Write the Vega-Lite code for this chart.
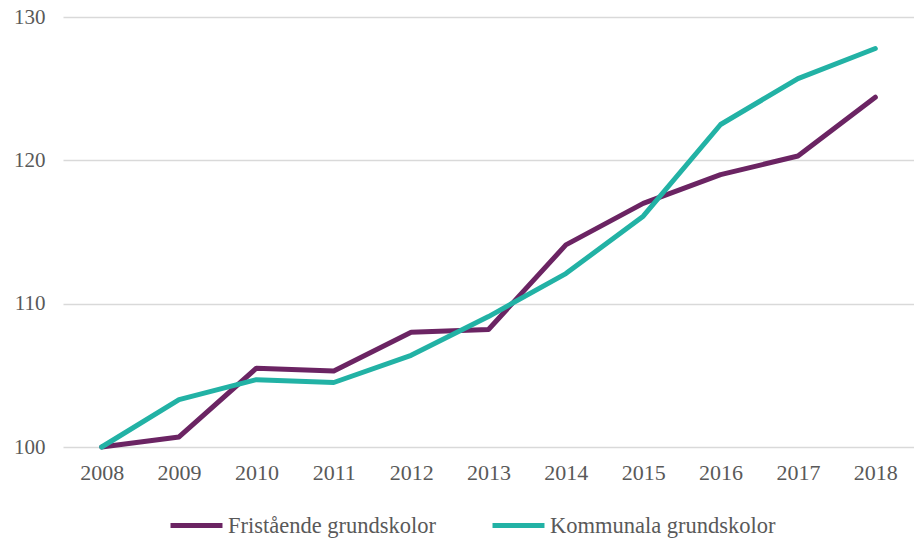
{
  "$schema": "https://vega.github.io/schema/vega-lite/v6.json",
  "width": 851,
  "height": 430,
  "autosize": {"type": "none"},
  "padding": {"left": 63, "top": 17, "right": 0, "bottom": 91},
  "background": "white",
  "config": {
    "font": "Liberation Serif",
    "view": {"stroke": null}
  },
  "data": {
    "values": [
      {"year": "2008", "serie": "Fristående grundskolor", "value": 100},
      {"year": "2009", "serie": "Fristående grundskolor", "value": 100.7},
      {"year": "2010", "serie": "Fristående grundskolor", "value": 105.5},
      {"year": "2011", "serie": "Fristående grundskolor", "value": 105.3},
      {"year": "2012", "serie": "Fristående grundskolor", "value": 108.0},
      {"year": "2013", "serie": "Fristående grundskolor", "value": 108.2},
      {"year": "2014", "serie": "Fristående grundskolor", "value": 114.1},
      {"year": "2015", "serie": "Fristående grundskolor", "value": 117.0},
      {"year": "2016", "serie": "Fristående grundskolor", "value": 119.0},
      {"year": "2017", "serie": "Fristående grundskolor", "value": 120.3},
      {"year": "2018", "serie": "Fristående grundskolor", "value": 124.4},
      {"year": "2008", "serie": "Kommunala grundskolor", "value": 100},
      {"year": "2009", "serie": "Kommunala grundskolor", "value": 103.3},
      {"year": "2010", "serie": "Kommunala grundskolor", "value": 104.7},
      {"year": "2011", "serie": "Kommunala grundskolor", "value": 104.5},
      {"year": "2012", "serie": "Kommunala grundskolor", "value": 106.4},
      {"year": "2013", "serie": "Kommunala grundskolor", "value": 109.1},
      {"year": "2014", "serie": "Kommunala grundskolor", "value": 112.1},
      {"year": "2015", "serie": "Kommunala grundskolor", "value": 116.1},
      {"year": "2016", "serie": "Kommunala grundskolor", "value": 122.5},
      {"year": "2017", "serie": "Kommunala grundskolor", "value": 125.7},
      {"year": "2018", "serie": "Kommunala grundskolor", "value": 127.8}
    ]
  },
  "mark": {"type": "line", "strokeWidth": 5, "strokeCap": "round", "strokeJoin": "round"},
  "encoding": {
    "x": {
      "field": "year",
      "type": "ordinal",
      "scale": {"type": "point", "padding": 0.5},
      "axis": {
        "title": null,
        "labelAngle": 0,
        "labelFont": "Liberation Serif",
        "labelFontSize": 22,
        "labelColor": "#595959",
        "labelPadding": 15,
        "ticks": false,
        "domain": false,
        "grid": false
      }
    },
    "y": {
      "field": "value",
      "type": "quantitative",
      "scale": {"domain": [100, 130], "nice": false, "zero": false},
      "axis": {
        "title": null,
        "values": [100, 110, 120, 130],
        "labelFont": "Liberation Serif",
        "labelFontSize": 21,
        "labelColor": "#595959",
        "labelPadding": 18,
        "ticks": false,
        "domain": false,
        "gridColor": "#d9d9d9",
        "gridWidth": 1.5
      }
    },
    "color": {
      "field": "serie",
      "type": "nominal",
      "scale": {
        "domain": ["Fristående grundskolor", "Kommunala grundskolor"],
        "range": ["#6B2463", "#22B2A5"]
      },
      "legend": {
        "title": null,
        "orient": "none",
        "direction": "horizontal",
        "legendX": 105,
        "legendY": 480,
        "symbolType": "stroke",
        "symbolSize": 2700,
        "symbolStrokeWidth": 5,
        "labelFont": "Liberation Serif",
        "labelFontSize": 22.5,
        "labelColor": "#595959",
        "labelOffset": 3,
        "columnPadding": 45,
        "labelLimit": 300
      }
    }
  }
}
